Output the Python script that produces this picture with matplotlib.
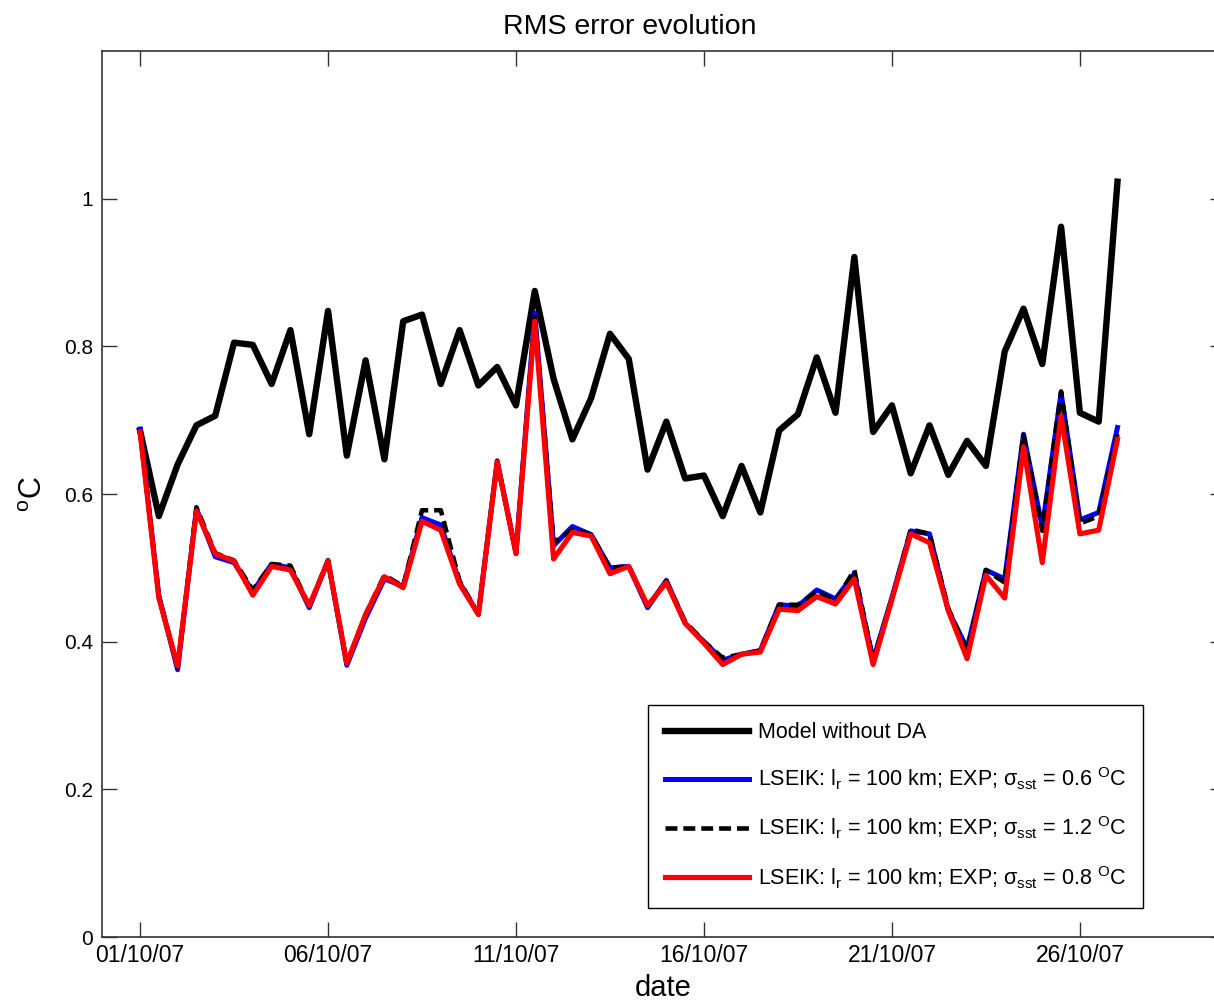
import numpy as np
import pandas as pd
import matplotlib
matplotlib.use("Agg")
import matplotlib.pyplot as plt
import matplotlib.dates as mdates
from matplotlib.ticker import FixedLocator, FuncFormatter

plt.rcParams['font.family'] = ['Liberation Sans', 'DejaVu Sans']
plt.rcParams['mathtext.fontset'] = 'custom'
plt.rcParams['mathtext.rm'] = 'Liberation Sans'
plt.rcParams['mathtext.it'] = 'Liberation Sans'
plt.rcParams['mathtext.default'] = 'regular'

# Twice-daily RMS error values (°C)
dates = pd.date_range("2007-10-01 00:00", periods=53, freq="12h")

model_no_da = [0.686, 0.570, 0.640, 0.693, 0.706, 0.805, 0.802, 0.749, 0.822, 0.681,
               0.848, 0.652, 0.781, 0.647, 0.834, 0.843, 0.749, 0.822, 0.747, 0.772,
               0.720, 0.875, 0.756, 0.674, 0.730, 0.817, 0.783, 0.633, 0.698, 0.621,
               0.625, 0.570, 0.638, 0.575, 0.686, 0.708, 0.785, 0.710, 0.921, 0.684,
               0.720, 0.628, 0.693, 0.626, 0.672, 0.638, 0.793, 0.851, 0.776, 0.962,
               0.710, 0.698, 1.023]

lseik_06 = [0.688, 0.462, 0.362, 0.580, 0.515, 0.507, 0.468, 0.505, 0.500, 0.446,
            0.510, 0.368, 0.432, 0.485, 0.475, 0.568, 0.558, 0.480, 0.437, 0.645,
            0.520, 0.845, 0.530, 0.556, 0.545, 0.500, 0.502, 0.446, 0.483, 0.425,
            0.400, 0.375, 0.383, 0.388, 0.450, 0.448, 0.470, 0.458, 0.492, 0.375,
            0.460, 0.550, 0.546, 0.442, 0.391, 0.497, 0.485, 0.681, 0.555, 0.737,
            0.565, 0.575, 0.690]

lseik_12 = [0.686, 0.462, 0.365, 0.582, 0.520, 0.510, 0.470, 0.505, 0.503, 0.448,
            0.510, 0.370, 0.437, 0.490, 0.475, 0.578, 0.578, 0.482, 0.437, 0.643,
            0.520, 0.840, 0.534, 0.552, 0.545, 0.500, 0.502, 0.448, 0.482, 0.427,
            0.400, 0.378, 0.383, 0.388, 0.450, 0.450, 0.468, 0.455, 0.497, 0.375,
            0.458, 0.552, 0.546, 0.445, 0.387, 0.497, 0.480, 0.680, 0.550, 0.739,
            0.560, 0.570, 0.681]

lseik_08 = [0.684, 0.459, 0.367, 0.577, 0.519, 0.509, 0.463, 0.502, 0.497, 0.449,
            0.509, 0.371, 0.437, 0.488, 0.473, 0.563, 0.551, 0.478, 0.437, 0.643,
            0.519, 0.834, 0.512, 0.548, 0.543, 0.492, 0.502, 0.449, 0.480, 0.425,
            0.398, 0.369, 0.383, 0.386, 0.444, 0.442, 0.461, 0.451, 0.485, 0.369,
            0.457, 0.546, 0.534, 0.442, 0.377, 0.490, 0.459, 0.664, 0.507, 0.706,
            0.546, 0.551, 0.674]

labels = [
    "Model without DA",
    r"LSEIK: l$_r$ = 100 km; EXP; $\sigma_{sst}$ = 0.6 $^O$C",
    r"LSEIK: l$_r$ = 100 km; EXP; $\sigma_{sst}$ = 1.2 $^O$C",
    r"LSEIK: l$_r$ = 100 km; EXP; $\sigma_{sst}$ = 0.8 $^O$C",
]

W, H = 1214, 1005
fig = plt.figure(figsize=(W / 100, H / 100), dpi=100)
left, right, top, bottom = 101.7, 1225, 51, 937
ax = fig.add_axes([left / W, 1 - bottom / H, (right - left) / W, (bottom - top) / H])

ax.plot(dates, model_no_da, color="black", lw=4.6, label=labels[0])
ax.plot(dates, lseik_06, color="blue", lw=3.6, label=labels[1])
ax.plot(dates, lseik_12, color="black", lw=3.3, ls=(0, (2.6, 1.3)), label=labels[2])
ax.plot(dates, lseik_08, color="red", lw=3.7, label=labels[3])

t0 = mdates.date2num(pd.Timestamp("2007-10-01"))
ax.set_xlim(t0 - 1.02, t0 + 28.86)
ax.set_ylim(0, 1.2)

ax.xaxis.set_major_locator(FixedLocator([t0 + 5 * k for k in range(6)]))
ax.xaxis.set_major_formatter(mdates.DateFormatter("%d/%m/%y"))
ax.set_yticks([0, 0.2, 0.4, 0.6, 0.8, 1.0])
ax.yaxis.set_major_formatter(FuncFormatter(lambda v, p: "%g" % v))

ax.tick_params(direction="in", length=11, width=1, color="#333333",
               top=True, right=True)
ax.tick_params(axis="x", labelsize=16.5, pad=5)
ax.tick_params(axis="y", labelsize=15, pad=6)
for s in ax.spines.values():
    s.set_color("#333333")
    s.set_linewidth(1.2)

ax.set_title("RMS error evolution", fontsize=20.5, pad=12,
             x=(630 - left) / (right - left))
ax.set_xlabel("date", fontsize=21, labelpad=5)
ax.set_ylabel(r"$^o$C", fontsize=22, labelpad=11)

leg = ax.legend(loc="upper left", bbox_to_anchor=(648 / W, 1 - 705 / H),
                bbox_transform=fig.transFigure, borderaxespad=0,
                fontsize=15.5, handlelength=3.9, handletextpad=0.4,
                borderpad=0.8, labelspacing=1.05, fancybox=False,
                framealpha=1, edgecolor="black")
leg.get_frame().set_linewidth(1.0)

fig.savefig("out.png", dpi=100)
